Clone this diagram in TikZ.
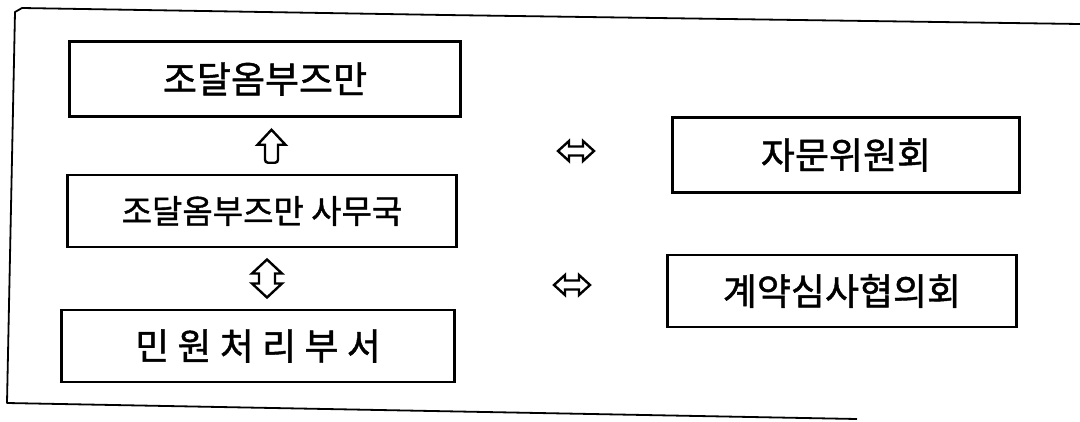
\documentclass[tikz,border=0pt]{standalone}
\usepackage{fontspec}
\setmainfont{Noto Sans CJK KR}[FakeBold=1.2]
\usetikzlibrary{calc}
\begin{document}
\begin{tikzpicture}[x=1pt,y=-1pt,
  box/.style={draw, line width=2.8pt, inner sep=0pt, font=\fontsize{37}{42}\selectfont},
  frameline/.style={draw, line width=1.8pt, line join=round},
  arrowsym/.style={draw, line width=2.4pt, line join=miter}]
\useasboundingbox (0,0) rectangle (1080,421);
% outer frame (open on the right)
\draw[frameline] (1080,24) -- (445,15) -- (22,8) -- (15,12) -- (7,403) -- (857,419);
% boxes
\node[box, minimum width=391pt, minimum height=75pt] (b1) at (265,79) {조달옴부즈만};
\node[box, minimum width=389pt, minimum height=72pt, font=\fontsize{33}{38}\selectfont] (b2) at (262,211) {조달옴부즈만 사무국};
\node[box, minimum width=393pt, minimum height=72pt] (b3) at (258,346) {민 원 처 리 부 서};
\node[box, minimum width=347pt, minimum height=75pt] (r1) at (846,155) {자문위원회};
\node[box, minimum width=349pt, minimum height=72pt] (r2) at (842,291) {계약심사협의회};
% arrow symbols
\coordinate (a1) at ($(b1.south)!0.5!(b2.north)+(8,0)$);
\coordinate (a2) at ($(b2.south)!0.5!(b3.north)+(7,0)$);
\coordinate (h1) at (576,151);
\coordinate (h2) at (572,285);
\draw[arrowsym, shift={(a1)}] (0,-16) -- (14,-1) -- (6.5,-1) -- (6.5,13) [rounded corners=3pt] -- (6.5,17) -- (-6.5,17) [sharp corners] -- (-6.5,13) -- (-6.5,-1) -- (-14,-1) -- cycle;
\draw[arrowsym, shift={(a2)}] (0,-19) -- (15,-5) -- (8,-5) -- (8,5) -- (15,5) -- (0,19) -- (-15,5) -- (-8,5) -- (-8,-5) -- (-15,-5) -- cycle;
\draw[arrowsym, shift={(h1)}] (-18,0) -- (-7,-10) -- (-7,-4.5) -- (7,-4.5) -- (7,-10) -- (18,0) -- (7,10) -- (7,4.5) -- (-7,4.5) -- (-7,10) -- cycle;
\draw[arrowsym, shift={(h2)}] (-18,0) -- (-7,-10) -- (-7,-4.5) -- (7,-4.5) -- (7,-10) -- (18,0) -- (7,10) -- (7,4.5) -- (-7,4.5) -- (-7,10) -- cycle;
\end{tikzpicture}
\end{document}
